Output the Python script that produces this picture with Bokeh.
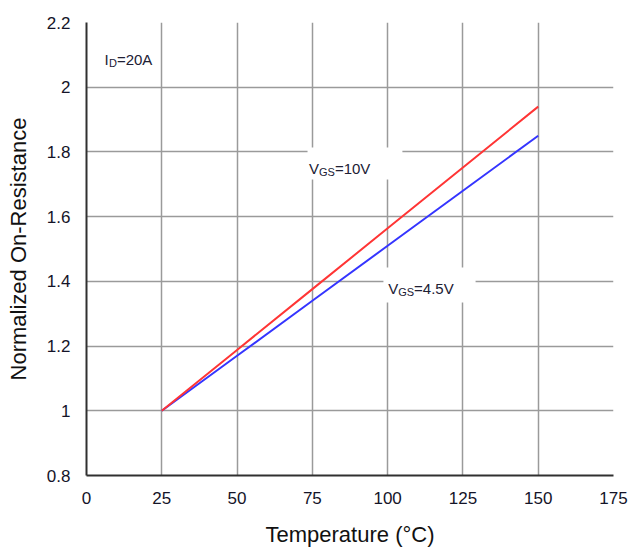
from bokeh.plotting import figure
from bokeh.models import ColumnDataSource, Label, BoxAnnotation, FixedTicker, Range1d
from bokeh.embed import file_html
from bokeh.resources import INLINE

# ---- data ----
temperature = [25, 50, 75, 100, 125, 150]
rds_vgs10 = [1.0, 1.188, 1.376, 1.564, 1.752, 1.94]
rds_vgs45 = [1.0, 1.17, 1.34, 1.51, 1.68, 1.85]
x_ticks = [0, 25, 50, 75, 100, 125, 150, 175]
y_ticks = [0.8, 1.0, 1.2, 1.4, 1.6, 1.8, 2.0, 2.2]
y_tick_labels = ["0.8", "1", "1.2", "1.4", "1.6", "1.8", "2", "2.2"]

FONT = "Liberation Sans"

p = figure(frame_width=527, frame_height=453, output_backend="svg",
           toolbar_location=None, x_range=Range1d(0, 175), y_range=Range1d(0.8, 2.2),
           min_border_left=86, min_border_right=16, min_border_top=22, min_border_bottom=74)
p.outline_line_color = None
p.background_fill_color = "white"
p.border_fill_color = "white"

src = ColumnDataSource(dict(t=temperature, r10=rds_vgs10, r45=rds_vgs45))
p.line("t", "r45", source=src, line_color="#3535ff", line_width=2)
p.line("t", "r10", source=src, line_color="#ff3535", line_width=2)

for ax in (p.xaxis[0], p.yaxis[0]):
    ax.axis_line_color = "#303030"
    ax.axis_line_width = 2
    ax.major_tick_in = 0
    ax.major_tick_out = 0
    ax.minor_tick_line_color = None
    ax.major_label_text_font = FONT
    ax.major_label_text_font_size = "17px"
    ax.major_label_text_color = "#141428"
    ax.axis_label_text_font = FONT
    ax.axis_label_text_font_size = "22px"
    ax.axis_label_text_font_style = "normal"
    ax.axis_label_text_color = "#111111"

p.xaxis.ticker = FixedTicker(ticks=x_ticks)
p.yaxis.ticker = FixedTicker(ticks=y_ticks)
p.yaxis.major_label_overrides = {v: s for v, s in zip(y_ticks, y_tick_labels)}
p.xaxis.major_label_standoff = 16
p.yaxis.major_label_standoff = 16
p.xaxis.axis_label = "Temperature (°C)"
p.yaxis.axis_label = "Normalized On-Resistance"
p.xaxis.axis_label_standoff = 15
p.yaxis.axis_label_standoff = 13

for g in (p.xgrid[0], p.ygrid[0]):
    g.grid_line_color = "#9a9a9a"
    g.grid_line_width = 1.5

# white label boxes
p.add_layout(BoxAnnotation(left=73.4, right=104.9, bottom=1.715, top=1.814,
                           fill_color="white", fill_alpha=1, line_color=None))
p.add_layout(BoxAnnotation(left=98.6, right=129.2, bottom=1.335, top=1.443,
                           fill_color="white", fill_alpha=1, line_color=None))

def sublabel(x, y, main, sub, rest, main_size=15, sub_size=11, main_w=0.667):
    col = "#202034"
    p.add_layout(Label(x=x, y=y, text=main, text_font=FONT, text_font_size=f"{main_size}px",
                       text_color=col, text_baseline="alphabetic"))
    w1 = main_w * main_size
    p.add_layout(Label(x=x, y=y, x_offset=w1, y_offset=-4, text=sub, text_font=FONT,
                       text_font_size=f"{sub_size}px", text_color=col, text_baseline="alphabetic"))
    w2 = w1 + 0.72 * sub_size * len(sub)
    p.add_layout(Label(x=x, y=y, x_offset=w2, text=rest, text_font=FONT,
                       text_font_size=f"{main_size}px", text_color=col, text_baseline="alphabetic"))

sublabel(5.98, 2.086, "I", "D", "=20A", main_w=0.3)
sublabel(73.9, 1.749, "V", "GS", "=10V")
sublabel(100.2, 1.378, "V", "GS", "=4.5V")

open("out.html", "w").write(file_html(p, INLINE))
